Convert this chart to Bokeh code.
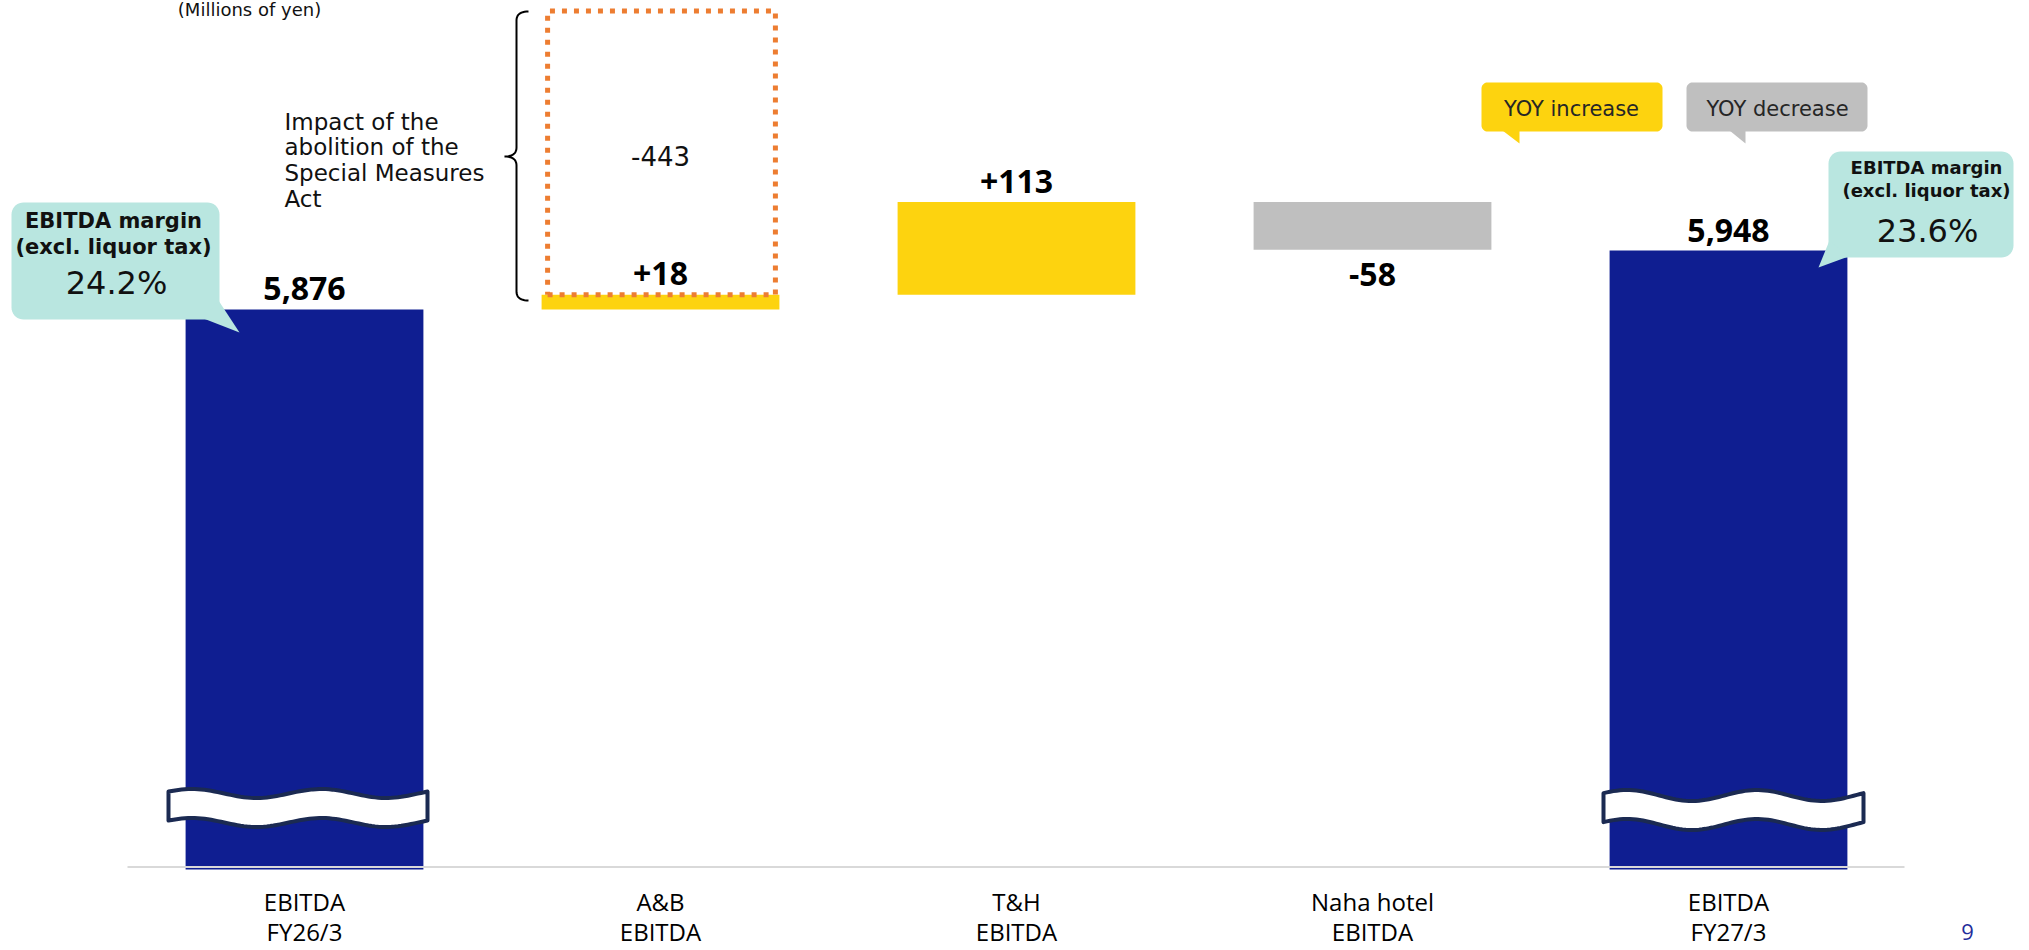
import numpy as np
from bokeh.plotting import figure
from bokeh.models import Range1d
from bokeh.core.properties import value
from bokeh.embed import file_html
from bokeh.resources import INLINE

# ---------------- data ----------------
cat_line1 = ["EBITDA", "A&B", "T&H", "Naha hotel", "EBITDA"]
cat_line2 = ["FY26/3", "EBITDA", "EBITDA", "EBITDA", "FY27/3"]
start_value = 5876
change_values = [18, 113, -58]
end_value = 5948
abolition_impact = -443
margin_labels = ["24.2%", "23.6%"]
margin_title = ["EBITDA margin", "(excl. liquor tax)"]
legend_labels = ["YOY increase", "YOY decrease"]
impact_note = ["Impact of the", "abolition of the", "Special Measures", "Act"]
unit_label = "(Millions of yen)"
page_number = "9"

# ---------------- colours ----------------
NAVY = "#0F1E91"
YELLOW = "#FDD30F"
GRAY = "#BFBFBF"
TEAL = "#B9E6E0"
ORANGE = "#ED7D31"
OUTLINE = "#1B2A52"
TXT = "#111111"

# ---------------- layout ----------------
W, H = 2024, 948
ORIGIN = 0
PX_PER_CAT = 356.0
CAT0_PX = 304.0
PX_PER_UNIT = 0.82
X_START = (ORIGIN - CAT0_PX) / PX_PER_CAT
X_END = X_START + W / PX_PER_CAT
Y_END = start_value + (309 - ORIGIN) / PX_PER_UNIT
Y_START = Y_END - H / PX_PER_UNIT
BAR_W = 0.668


def X(px):
    return X_START + (px - ORIGIN) * (X_END - X_START) / W


def Y(py):
    return Y_END - (py - ORIGIN) * (Y_END - Y_START) / H


p = figure(width=W, height=H, x_range=Range1d(X_START, X_END),
           y_range=Range1d(Y_START, Y_END), output_backend="svg",
           toolbar_location=None, x_axis_location=None, y_axis_location=None,
           min_border=0)
p.grid.visible = False
p.outline_line_color = None
p.background_fill_color = "white"
p.border_fill_color = "white"


def txt(px, py, s, size, font="DejaVu Sans", style="normal", color=TXT,
        align="center", baseline="middle"):
    p.text(x=[X(px)], y=[Y(py)], text=[s], text_font=value(font),
           text_font_size=value(f"{size}px"), text_font_style=value(style),
           text_color=color, text_align=align, text_baseline=baseline)


# ---------------- waterfall bars ----------------
baseline = Y(869)
idx = list(range(5))
bottoms, tops, colors = [], [], []
bottoms.append(baseline); tops.append(start_value); colors.append(NAVY)
level = start_value
for c in change_values:
    new = level + c
    bottoms.append(min(level, new)); tops.append(max(level, new))
    colors.append(YELLOW if c >= 0 else GRAY)
    level = new
bottoms.append(baseline); tops.append(end_value); colors.append(NAVY)

p.vbar(x=idx, width=BAR_W, bottom=bottoms, top=tops, fill_color=colors,
       line_color=None)

# axis line
p.line([X(127), X(1904)], [Y(866.5), Y(866.5)], line_color="#D9D9D9", line_width=2)

# value labels
labels = [f"{start_value:,}"] + [f"{c:+d}" for c in change_values] + [f"{end_value:,}"]
lab_y, lab_off = [start_value], [-21]
level = start_value
for c in change_values:
    new = level + c
    lab_y.append(new)
    lab_off.append(-21 if c >= 0 else 25)
    level = new
lab_y.append(end_value); lab_off.append(-20)
p.text(x=idx, y=lab_y, text=labels, y_offset=lab_off, text_align="center",
       text_baseline="middle", text_font=value("Open Sans"),
       text_font_size=value("32px"), text_font_style=value("bold"),
       text_color="#000000")

# category labels
p.text(x=idx, y=[Y(901)] * 5, text=cat_line1, text_align="center",
       text_baseline="middle", text_font=value("Open Sans"),
       text_font_size=value("24px"), text_color="#000000")
p.text(x=idx, y=[Y(931)] * 5, text=cat_line2, text_align="center",
       text_baseline="middle", text_font=value("Open Sans"),
       text_font_size=value("24px"), text_color="#000000")


# ---------------- broken-axis wavy marks ----------------
def wave(x0, x1, yc, amp, thick, t_up=0.09, period=0.5, n=80):
    t = np.linspace(0, 1, n)
    xs = x0 + t * (x1 - x0)
    top = yc - amp * np.cos(2 * np.pi * (t - t_up) / period)
    bot = top + thick
    px = np.concatenate([xs, xs[::-1]])
    py = np.concatenate([top, bot[::-1]])
    p.patch([X(v) for v in px], [Y(v) for v in py], fill_color="white",
            line_color=OUTLINE, line_width=4, line_join="round")


wave(168, 427, 793, 4.5, 29)
wave(1603, 1863, 795, 5.5, 29)

# ---------------- dotted box for abolition impact ----------------
ab_top = start_value + change_values[0]
bx0, bx1 = 1 - BAR_W / 2 + 6 / PX_PER_CAT, 1 + BAR_W / 2 - 4 / PX_PER_CAT
by0, by1 = ab_top, Y(10.5)
p.line([bx0, bx1, bx1, bx0, bx0], [by0, by0, by1, by1, by0], line_color=ORANGE,
       line_width=5, line_dash="5 7")
txt(660, 155, f"{abolition_impact:d}", 26)


# brace
def qcurve(p0, c, p1, n=12):
    t = np.linspace(0, 1, n)[:, None]
    a, b, d = np.array(p0), np.array(c), np.array(p1)
    return ((1 - t) ** 2 * a + 2 * (1 - t) * t * b + t ** 2 * d).tolist()


pts = []
pts += qcurve((528, 11), (516, 11), (516, 20))
pts += [(516, 147)]
pts += qcurve((516, 147), (516, 156), (504, 156))
pts += qcurve((504, 156), (516, 156), (516, 165))
pts += [(516, 291)]
pts += qcurve((516, 291), (516, 300), (528, 300))
p.line([X(a) for a, b in pts], [Y(b) for a, b in pts], line_color="#000000",
       line_width=2)

for i, line in enumerate(impact_note):
    txt(284, 121 + 25.7 * i, line, 23, align="left")

# unit note (partly hidden at the top in the source slide)
txt(249, 9, unit_label, 18)


# ---------------- callouts ----------------
def rrect(x0, y0, x1, y1, r, n=10):
    pts = []
    for cx, cy, a0, a1 in [(x1 - r, y0 + r, -90, 0), (x1 - r, y1 - r, 0, 90),
                           (x0 + r, y1 - r, 90, 180), (x0 + r, y0 + r, 180, 270)]:
        for a in np.linspace(np.radians(a0), np.radians(a1), n):
            pts.append((cx + r * np.cos(a), cy + r * np.sin(a)))
    return pts


def callout(box, r, tail, color):
    pts = rrect(*box, r)
    p.patch([X(a) for a, b in pts], [Y(b) for a, b in pts], fill_color=color,
            line_color=None)
    p.patch([X(a) for a, b in tail], [Y(b) for a, b in tail], fill_color=color,
            line_color=None)


callout((11, 202, 219, 319), 12, [(203, 318), (239, 332), (218, 300)], TEAL)
txt(113, 220, margin_title[0], 21, style="bold")
txt(113, 246, margin_title[1], 21, style="bold")
txt(116, 282, margin_labels[0], 32)

callout((1828, 151, 2013, 257), 12, [(1829, 240), (1818, 267), (1848, 256)], TEAL)
txt(1926, 167, margin_title[0], 18, style="bold")
txt(1926, 190, margin_title[1], 18, style="bold")
txt(1927, 230, margin_labels[1], 32)

callout((1481, 82, 1662, 131), 6, [(1502, 130), (1519, 143), (1519, 130)], YELLOW)
txt(1571, 108, legend_labels[0], 21, color="#262626")
callout((1686, 82, 1867, 131), 6, [(1729, 130), (1745, 143), (1745, 130)], GRAY)
txt(1777, 108, legend_labels[1], 21, color="#262626")

# page number
txt(1967, 931, page_number, 22, font="Open Sans", color="#1F2D9B")

open("out.html", "w").write(file_html(p, INLINE))
